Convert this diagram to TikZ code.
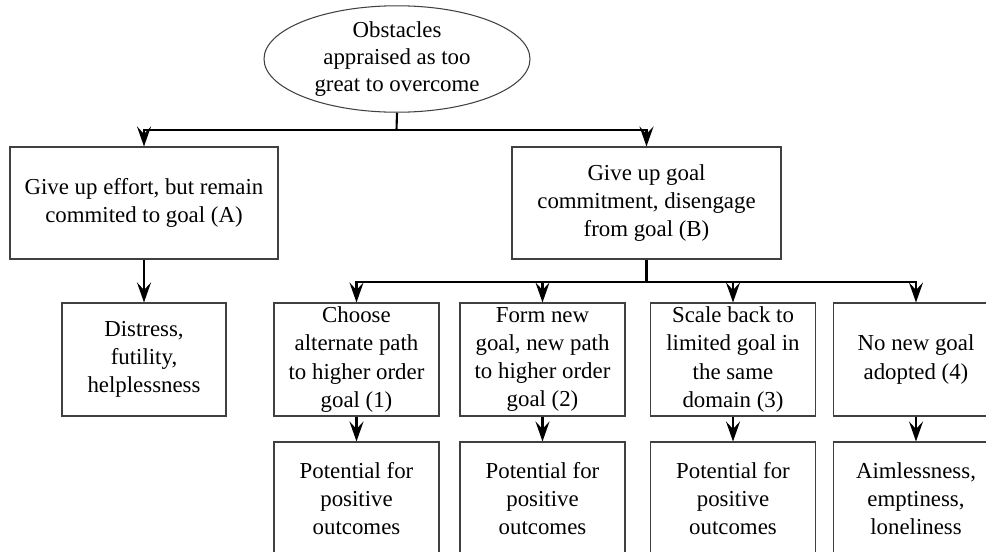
\documentclass[tikz,border=0pt]{standalone}
\usepackage{fontspec}
\setmainfont{Liberation Serif}
\usepackage{tikz}
\usetikzlibrary{arrows.meta,shapes.geometric}

\tikzset{
  box/.style={draw=black!75, line width=0.6pt, rectangle, align=center, inner sep=0pt,
    font=\rmfamily\fontsize{13}{16}\selectfont},
  oval/.style={draw=black!75, line width=0.6pt, ellipse, align=center, inner sep=0pt,
    font=\rmfamily\fontsize{13}{15.5}\selectfont},
  link/.style={line width=1.2pt},
  arr/.style={link, -{Stealth[length=0.4cm, width=0.28cm, inset=0.15cm]}}
}

\begin{document}
\begin{tikzpicture}
  \clip (0,0) rectangle (19.72,-11.02);
  \node[oval, minimum width=5.32cm, minimum height=2.04cm] (ob) at (7.94,-1.18)
    {Obstacles\\appraised as too\\great to overcome};
  \node[box, minimum width=5.36cm, minimum height=2.24cm] (A) at (2.88,-4.06)
    {Give up effort, but remain\\commited to goal (A)};
  \node[box, minimum width=5.38cm, minimum height=2.24cm] (B) at (12.93,-4.06)
    {Give up goal\\commitment, disengage\\from goal (B)};
  \node[box, minimum width=3.28cm, minimum height=2.26cm] (dis) at (2.88,-7.19)
    {Distress,\\futility,\\helplessness};
  \node[box, minimum width=3.3cm, minimum height=2.26cm] (c1) at (7.13,-7.19)
    {Choose\\alternate path\\to higher order\\goal (1)};
  \node[box, minimum width=3.3cm, minimum height=2.26cm] (c2) at (10.85,-7.19)
    {Form new\\goal, new path\\to higher order\\goal (2)};
  \node[box, minimum width=3.3cm, minimum height=2.26cm] (c3) at (14.66,-7.19)
    {Scale back to\\limited goal in\\the same\\domain (3)};
  \node[box, minimum width=3.3cm, minimum height=2.26cm] (c4) at (18.32,-7.19)
    {No new goal\\adopted (4)};
  \node[box, minimum width=3.3cm, minimum height=2.26cm] (o1) at (7.13,-9.97)
    {Potential for\\positive\\outcomes};
  \node[box, minimum width=3.3cm, minimum height=2.26cm] (o2) at (10.85,-9.97)
    {Potential for\\positive\\outcomes};
  \node[box, minimum width=3.3cm, minimum height=2.26cm] (o3) at (14.66,-9.97)
    {Potential for\\positive\\outcomes};
  \node[box, minimum width=3.3cm, minimum height=2.26cm] (o4) at (18.32,-9.97)
    {Aimlessness,\\emptiness,\\loneliness};
  \coordinate (j1) at (7.93,-2.6);
  \coordinate (j2) at (12.93,-5.64);
  \draw[link] (ob.south) -- (j1);
  \draw[arr] (j1) -| (A.north);
  \draw[arr] (j1) -| (B.north);
  \draw[arr] (A.south) -- (dis.north);
  \draw[link] (B.south) -- (j2);
  \draw[arr] (j2) -| (c1.north);
  \draw[arr] (j2) -| (c2.north);
  \draw[arr] (j2) -| (c3.north);
  \draw[arr] (j2) -| (c4.north);
  \draw[arr] (c1.south) -- (o1.north);
  \draw[arr] (c2.south) -- (o2.north);
  \draw[arr] (c3.south) -- (o3.north);
  \draw[arr] (c4.south) -- (o4.north);
\end{tikzpicture}
\end{document}
